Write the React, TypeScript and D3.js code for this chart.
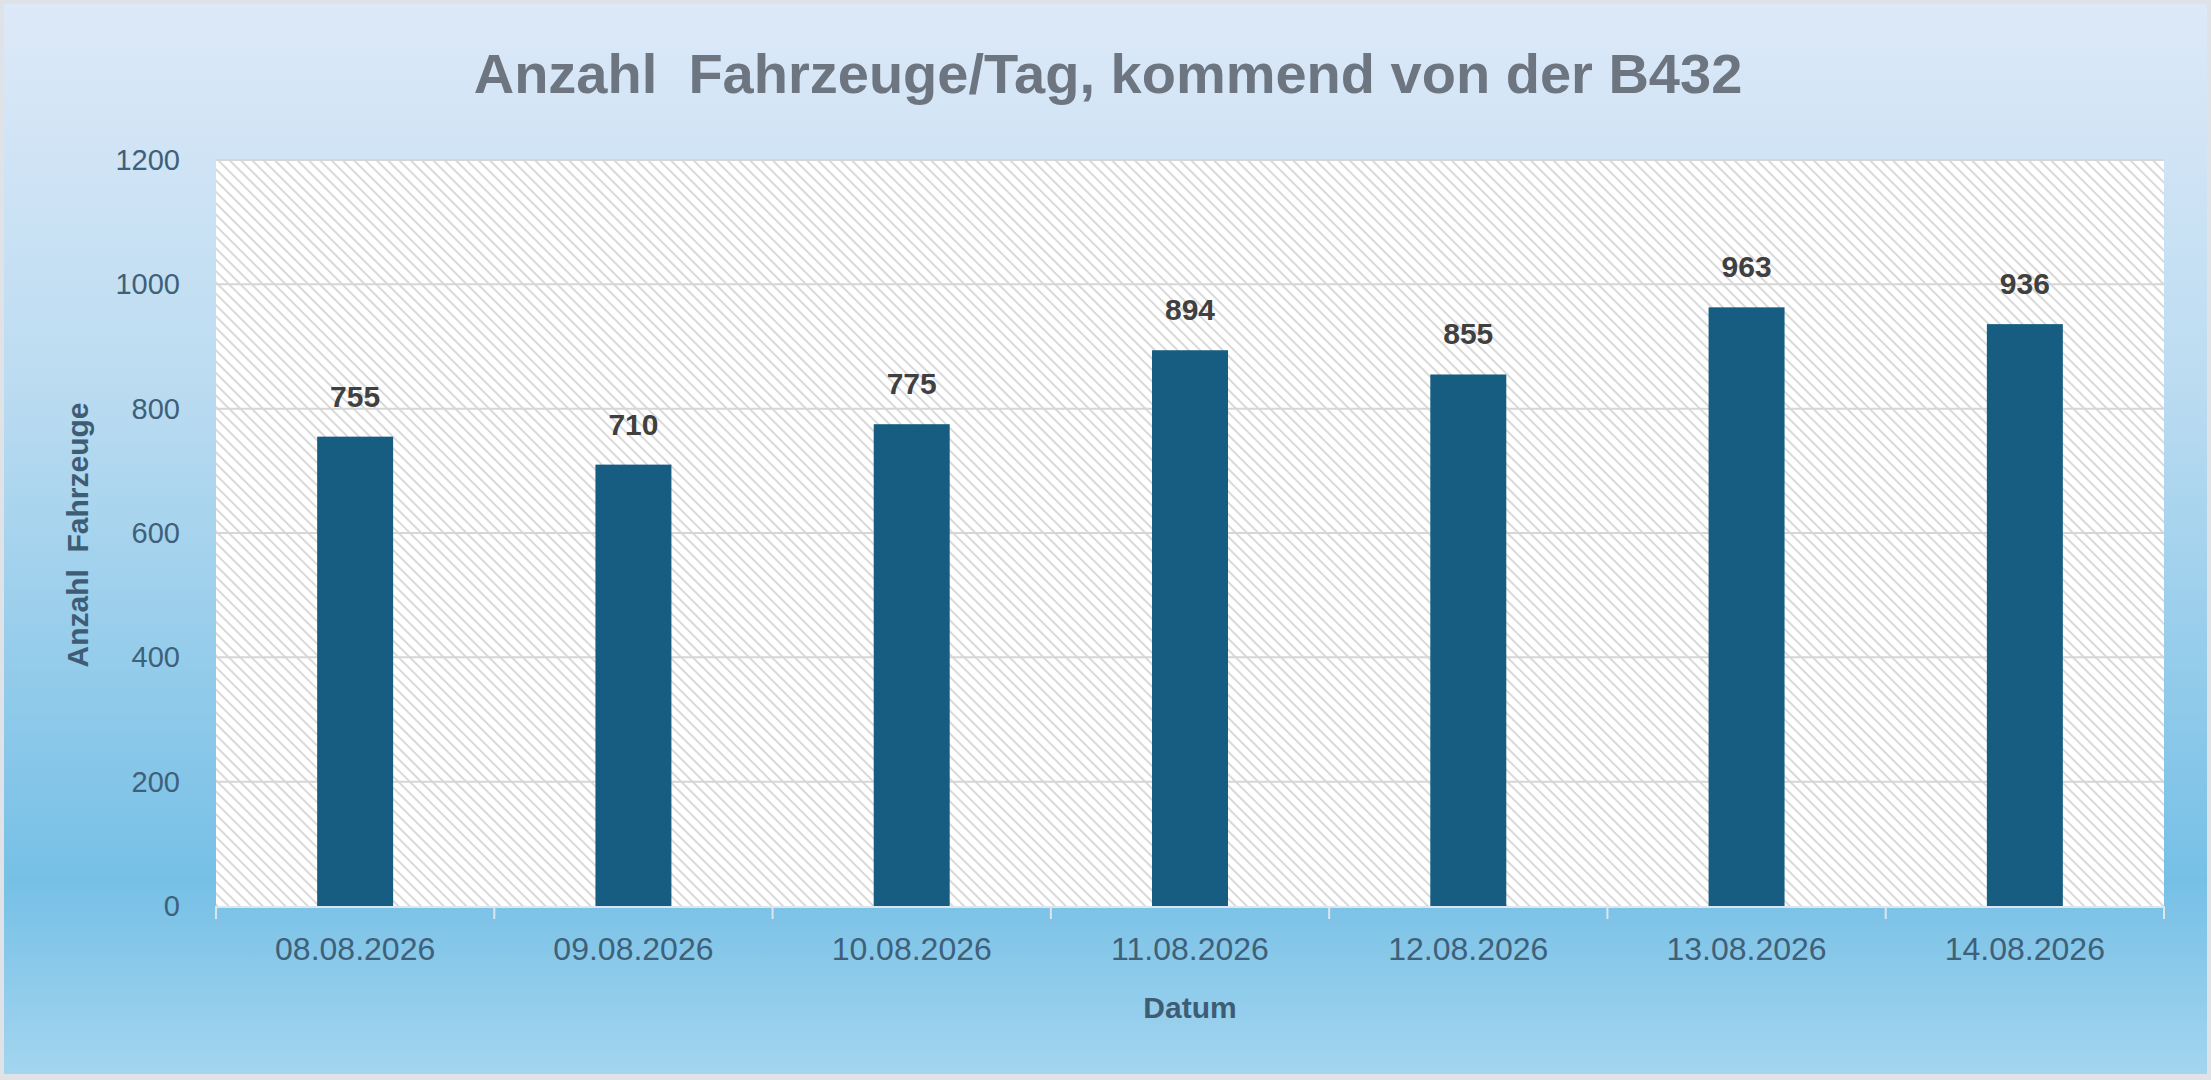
import React, { useEffect, useRef } from "react";
import * as d3 from "d3";

// data
const dates = ["08.08.2026", "09.08.2026", "10.08.2026", "11.08.2026", "12.08.2026", "13.08.2026", "14.08.2026"];
const vehicles = [755, 710, 775, 894, 855, 963, 936];
const yTicks = [0, 200, 400, 600, 800, 1000, 1200];

const W = 2211, H = 1080;
const M = { left: 216, right: 2164, top: 160, bottom: 906 };
const FONT = "'Liberation Sans', Arial, sans-serif";

export default function App() {
  const ref = useRef(null);

  useEffect(() => {
    document.body.style.margin = "0";
    const svg = d3.select(ref.current);
    svg.selectAll("*").remove();

    /* Defs */
    const defs = svg.append("defs");
    const bg = defs.append("linearGradient").attr("id", "bg").attr("x1", 0).attr("y1", 0).attr("x2", 0).attr("y2", 1);
    bg.append("stop").attr("offset", "0%").attr("stop-color", "#dde9f8");
    bg.append("stop").attr("offset", "35%").attr("stop-color", "#bcdcf1");
    bg.append("stop").attr("offset", "82%").attr("stop-color", "#76c0e6");
    bg.append("stop").attr("offset", "100%").attr("stop-color", "#a3d5ef");

    const hatch = defs.append("pattern")
      .attr("id", "hatch")
      .attr("patternUnits", "userSpaceOnUse")
      .attr("width", 8).attr("height", 8)
      .attr("patternTransform", "rotate(-45)");
    hatch.append("rect").attr("width", 8).attr("height", 8).attr("fill", "#ffffff");
    hatch.append("line").attr("x1", 1).attr("y1", 0).attr("x2", 1).attr("y2", 8)
      .attr("stroke", "#c9c9c9").attr("stroke-width", 1.4);

    /* Background */
    svg.append("rect").attr("width", W).attr("height", H).attr("fill", "#dfe3e7");
    svg.append("rect").attr("x", 4).attr("y", 4).attr("width", W - 8).attr("height", H - 10).attr("fill", "url(#bg)");

    const x = d3.scaleBand().domain(dates).range([M.left, M.right]).paddingInner(0.727).paddingOuter(0.3635);
    const band = d3.scaleBand().domain(dates).range([M.left, M.right]);
    const y = d3.scaleLinear().domain([0, 1200]).range([M.bottom, M.top]);

    /* Plot area */
    svg.append("rect")
      .attr("x", M.left).attr("y", M.top)
      .attr("width", M.right - M.left).attr("height", M.bottom - M.top)
      .attr("fill", "url(#hatch)");

    /* Grid */
    svg.append("g").selectAll("line")
      .data(yTicks.filter(d => d > 0))
      .join("line")
      .attr("x1", M.left).attr("x2", M.right)
      .attr("y1", d => y(d)).attr("y2", d => y(d))
      .attr("stroke", "#d6d6d6").attr("stroke-width", 2);

    /* Y labels */
    svg.append("g").selectAll("text")
      .data(yTicks)
      .join("text")
      .attr("x", 180).attr("y", d => y(d) + 10)
      .attr("text-anchor", "end")
      .style("font", `29px ${FONT}`)
      .attr("fill", "#3f6079")
      .text(d => d);

    /* Bars */
    svg.append("g").selectAll("rect")
      .data(vehicles)
      .join("rect")
      .attr("x", (d, i) => x(dates[i]))
      .attr("y", d => y(d))
      .attr("width", x.bandwidth())
      .attr("height", d => y(0) - y(d))
      .attr("fill", "#175d81");

    /* Value labels */
    svg.append("g").selectAll("text")
      .data(vehicles)
      .join("text")
      .attr("x", (d, i) => x(dates[i]) + x.bandwidth() / 2)
      .attr("y", d => y(d) - 30)
      .attr("text-anchor", "middle")
      .style("font", `bold 30px ${FONT}`)
      .attr("fill", "#404040")
      .text(d => d);

    /* X axis */
    svg.append("line")
      .attr("x1", M.left).attr("x2", M.right)
      .attr("y1", M.bottom + 1).attr("y2", M.bottom + 1)
      .attr("stroke", "#dde6ee").attr("stroke-width", 2);
    const bounds = dates.map(d => band(d)).concat([M.right]);
    svg.append("g").selectAll("line")
      .data(bounds)
      .join("line")
      .attr("x1", d => d).attr("x2", d => d)
      .attr("y1", M.bottom).attr("y2", M.bottom + 13)
      .attr("stroke", "#dde6ee").attr("stroke-width", 2);

    svg.append("g").selectAll("text")
      .data(dates)
      .join("text")
      .attr("x", d => band(d) + band.bandwidth() / 2)
      .attr("y", 960)
      .attr("text-anchor", "middle")
      .style("font", `32px ${FONT}`)
      .attr("fill", "#3f6079")
      .text(d => d);

    /* Axis titles */
    svg.append("text")
      .attr("x", (M.left + M.right) / 2).attr("y", 1018)
      .attr("text-anchor", "middle")
      .style("font", `bold 30px ${FONT}`)
      .attr("fill", "#3e5d75")
      .text("Datum");

    svg.append("text")
      .attr("transform", `translate(88,${(M.top + M.bottom) / 2 + 2}) rotate(-90)`)
      .attr("text-anchor", "middle")
      .style("font", `bold 30px ${FONT}`)
      .attr("fill", "#3e5d75")
      .style("white-space", "pre")
      .text("Anzahl  Fahrzeuge");

    /* Title */
    svg.append("text")
      .attr("x", 1108).attr("y", 93)
      .attr("text-anchor", "middle")
      .style("font", `bold 56px ${FONT}`)
      .attr("fill", "#6c7580")
      .style("white-space", "pre")
      .text("Anzahl  Fahrzeuge/Tag, kommend von der B432");
  }, []);

  return <svg ref={ref} width={W} height={H} style={{ display: "block" }} />;
}
